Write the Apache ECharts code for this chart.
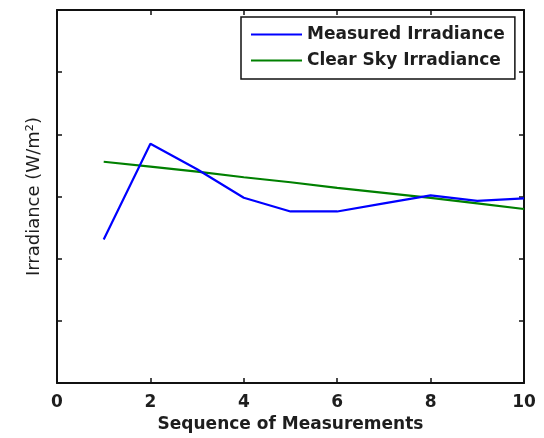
<!DOCTYPE html>
<html>
<head>
<meta charset="utf-8">
<script src="https://cdn.jsdelivr.net/npm/echarts@6/dist/echarts.min.js"></script>
<style>
  html, body { margin: 0; padding: 0; background: #fff; }
  #chart { width: 544px; height: 438px; }
</style>
</head>
<body>
<div id="chart"></div>
<script>
// Measurement sequence and irradiance readings (arbitrary vertical units)
const sequence = [1, 2, 3, 4, 5, 6, 7, 8, 9, 10];
const measured = [2.31, 3.85, 3.44, 2.98, 2.76, 2.76, 2.89, 3.02, 2.93, 2.97];
const clearSky = [3.56, 3.48, 3.40, 3.31, 3.23, 3.14, 3.06, 2.98, 2.89, 2.80];
const xTicks = [0, 2, 4, 6, 8, 10];
const seriesNames = ['Measured Irradiance', 'Clear Sky Irradiance'];

const font = 'DejaVu Sans';
const ink = '#1e1e1e';

const pair = (xs, ys) => xs.map((x, i) => [x, ys[i]]);

const frameLine = { show: true, onZero: false, lineStyle: { color: '#111', width: 2 } };
const innerTick = { show: true, inside: true, length: 5, lineStyle: { color: '#111', width: 1.5 } };

const chart = echarts.init(document.getElementById('chart'), null, { renderer: 'canvas' });
chart.setOption({
  backgroundColor: '#fff',
  animation: false,
  grid: { left: 57, right: 20, top: 10, bottom: 53 },
  legend: {
    orient: 'vertical',
    left: 241,
    top: 17,
    padding: [9, 10, 10, 10],
    borderColor: '#111',
    borderWidth: 1.5,
    itemWidth: 51,
    itemHeight: 2,
    itemGap: 9,
    icon: 'rect',
    textStyle: { fontFamily: font, fontWeight: 'bold', fontSize: 17, color: ink, padding: [0, 0, 0, 0] },
    data: seriesNames
  },
  xAxis: [
    {
      type: 'value', min: 0, max: 10, interval: 2,
      axisLine: frameLine, axisTick: innerTick, splitLine: { show: false },
      axisLabel: {
        fontFamily: font, fontWeight: 'bold', fontSize: 17, color: ink, margin: 11,
        formatter: v => (xTicks.includes(v) ? String(v) : '')
      },
      name: 'Sequence of Measurements',
      nameLocation: 'middle',
      nameGap: 32,
      nameTextStyle: { fontFamily: font, fontWeight: 'bold', fontSize: 17, color: ink }
    },
    {
      type: 'value', position: 'top', min: 0, max: 10, interval: 2,
      axisLine: frameLine, axisTick: innerTick, axisLabel: { show: false }, splitLine: { show: false }
    }
  ],
  yAxis: [
    {
      type: 'value', min: 0, max: 6, interval: 1,
      axisLine: frameLine, axisTick: innerTick, axisLabel: { show: false }, splitLine: { show: false },
      name: 'Irradiance (W/m²)',
      nameLocation: 'middle',
      nameGap: 14,
      nameTextStyle: { fontFamily: font, fontSize: 18, color: ink }
    },
    {
      type: 'value', position: 'right', min: 0, max: 6, interval: 1,
      axisLine: frameLine, axisTick: innerTick, axisLabel: { show: false }, splitLine: { show: false }
    }
  ],
  series: [
    {
      name: seriesNames[0], type: 'line', symbol: 'none',
      data: pair(sequence, measured),
      itemStyle: { color: '#0000ff' },
      lineStyle: { color: '#0000ff', width: 2.2 },
      z: 3
    },
    {
      name: seriesNames[1], type: 'line', symbol: 'none',
      data: pair(sequence, clearSky),
      itemStyle: { color: '#008000' },
      lineStyle: { color: '#008000', width: 2.2 },
      z: 2
    }
  ]
});
</script>
</body>
</html>
